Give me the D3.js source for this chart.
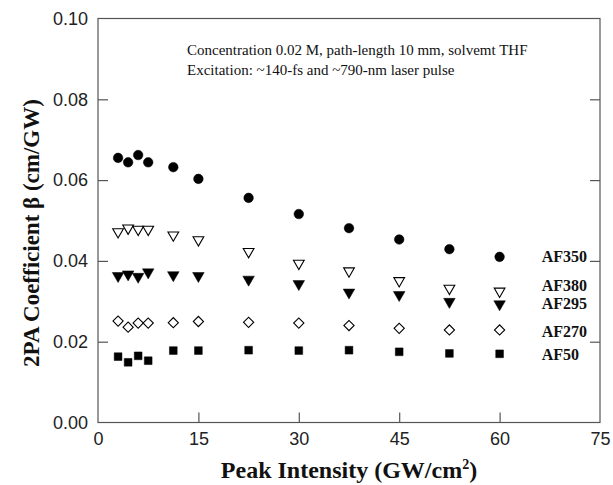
<!DOCTYPE html>
<html>
<head>
<meta charset="utf-8">
<script src="https://cdn.jsdelivr.net/npm/d3@7"></script>
<style>
  body { margin: 0; background: #fff; }
  .tick text { font-family: Arial, "Liberation Sans", sans-serif; font-size: 18px; fill: #222; }
  .title { font-family: "Times New Roman", "Liberation Serif", serif; font-weight: bold; font-size: 23px; fill: #111; }
  .note { font-family: "Times New Roman", "Liberation Serif", serif; font-size: 15px; fill: #111; }
  .lbl { font-family: "Times New Roman", "Liberation Serif", serif; font-weight: bold; font-size: 16px; fill: #111; }
</style>
</head>
<body>
<svg id="chart" width="613" height="485"></svg>
<script>
// intensity (GW/cm^2)
const intensity = [3, 4.5, 6, 7.5, 11.25, 15, 22.5, 30, 37.5, 45, 52.5, 60];

// 2PA coefficient beta (cm/GW) per compound
const af350 = [0.0655, 0.0644, 0.0662, 0.0644, 0.0632, 0.0603, 0.0556, 0.0516, 0.0481, 0.0453, 0.0429, 0.0410];
const af380 = [0.0472, 0.0481, 0.0478, 0.0478, 0.0464, 0.0452, 0.0423, 0.0394, 0.0375, 0.0351, 0.0332, 0.0325];
const af295 = [0.0363, 0.0367, 0.0361, 0.0372, 0.0365, 0.0363, 0.0354, 0.0343, 0.0322, 0.0316, 0.0299, 0.0293];
const af270 = [0.0251, 0.0236, 0.0246, 0.0246, 0.0247, 0.0250, 0.0248, 0.0246, 0.0240, 0.0233, 0.0229, 0.0229];
const af50  = [0.0163, 0.0149, 0.0165, 0.0153, 0.0178, 0.0178, 0.0179, 0.0178, 0.0179, 0.0175, 0.0171, 0.0170];

const xTicks = [0, 15, 30, 45, 60, 75];
const yTicks = [0, 0.02, 0.04, 0.06, 0.08, 0.10];

const series = [
  {name: "AF350", values: af350, shape: d3.symbolCircle,   size: 72, fill: true,  rot: 0,   labelY: 0.0398},
  {name: "AF380", values: af380, shape: d3.symbolTriangle, size: 50, fill: false, rot: 180, labelY: 0.0325},
  {name: "AF295", values: af295, shape: d3.symbolTriangle, size: 58, fill: true,  rot: 180, labelY: 0.0280},
  {name: "AF270", values: af270, shape: d3.symbolSquare,   size: 52, fill: false, rot: 45,  labelY: 0.0211},
  {name: "AF50",  values: af50,  shape: d3.symbolSquare,   size: 60, fill: true,  rot: 0,   labelY: 0.0155}
];

const svg = d3.select("#chart");
const m = {left: 98, right: 600, top: 18.5, bottom: 422.5};

const x = d3.scaleLinear().domain([0, 75]).range([m.left, m.right]);
const y = d3.scaleLinear().domain([0, 0.10]).range([m.bottom, m.top]);

const axisColor = "#555";

// frame
svg.append("rect")
  .attr("x", m.left).attr("y", m.top)
  .attr("width", m.right - m.left).attr("height", m.bottom - m.top)
  .attr("fill", "none").attr("stroke", axisColor).attr("stroke-width", 1.2);

// bottom axis, ticks inside
let gx = svg.append("g")
  .attr("transform", `translate(0,${m.bottom})`)
  .call(d3.axisBottom(x).tickValues(xTicks).tickSize(-10).tickPadding(10).tickFormat(d3.format("d")));
gx.select(".domain").remove();
gx.selectAll(".tick line").attr("stroke", axisColor).attr("stroke-width", 1.2);
gx.selectAll(".tick").filter(d => d === 0 || d === 75).select("line").remove();

// left axis
let gy = svg.append("g")
  .attr("transform", `translate(${m.left},0)`)
  .call(d3.axisLeft(y).tickValues(yTicks).tickSize(-10).tickPadding(10).tickFormat(d3.format(".2f")));
gy.select(".domain").remove();
gy.selectAll(".tick line").attr("stroke", axisColor).attr("stroke-width", 1.2);
gy.selectAll(".tick").filter(d => d === 0 || d === 0.10).select("line").remove();

// right axis: ticks only
let gr = svg.append("g")
  .attr("transform", `translate(${m.right},0)`)
  .call(d3.axisRight(y).tickValues(yTicks.slice(1, 5)).tickSize(-10).tickFormat(""));
gr.select(".domain").remove();
gr.selectAll(".tick line").attr("stroke", axisColor).attr("stroke-width", 1.2);

// markers
series.forEach(s => {
  let sym = d3.symbol().type(s.shape).size(s.size);
  svg.append("g").selectAll("path")
    .data(s.values.map((v, i) => [intensity[i], v]))
    .join("path")
    .attr("d", sym)
    .attr("transform", d => `translate(${x(d[0])},${y(d[1])}) rotate(${s.rot})`)
    .attr("fill", s.fill ? "#000" : "#fff")
    .attr("stroke", "#000")
    .attr("stroke-width", s.fill ? 0.5 : 1.1);

  svg.append("text")
    .attr("class", "lbl")
    .attr("x", x(66.3))
    .attr("y", y(s.labelY))
    .text(s.name);
});

// annotation
svg.append("text").attr("class", "note").attr("x", 187).attr("y", 55)
  .text("Concentration 0.02 M, path-length 10 mm, solvemt THF");
svg.append("text").attr("class", "note").attr("x", 187).attr("y", 75)
  .text("Excitation: ~140-fs and ~790-nm laser pulse");

// axis titles
let xt = svg.append("text").attr("class", "title")
  .attr("x", 349).attr("y", 478).attr("text-anchor", "middle")
  .style("font-size", "24px");
xt.append("tspan").text("Peak Intensity (GW/cm");
xt.append("tspan").attr("dy", -9).attr("font-size", 14).text("2");
xt.append("tspan").attr("dy", 9).text(")");

svg.append("text").attr("class", "title")
  .attr("transform", `translate(39,${233}) rotate(-90)`)
  .attr("text-anchor", "middle")
  .text("2PA Coefficient β (cm/GW)");
</script>
</body>
</html>
